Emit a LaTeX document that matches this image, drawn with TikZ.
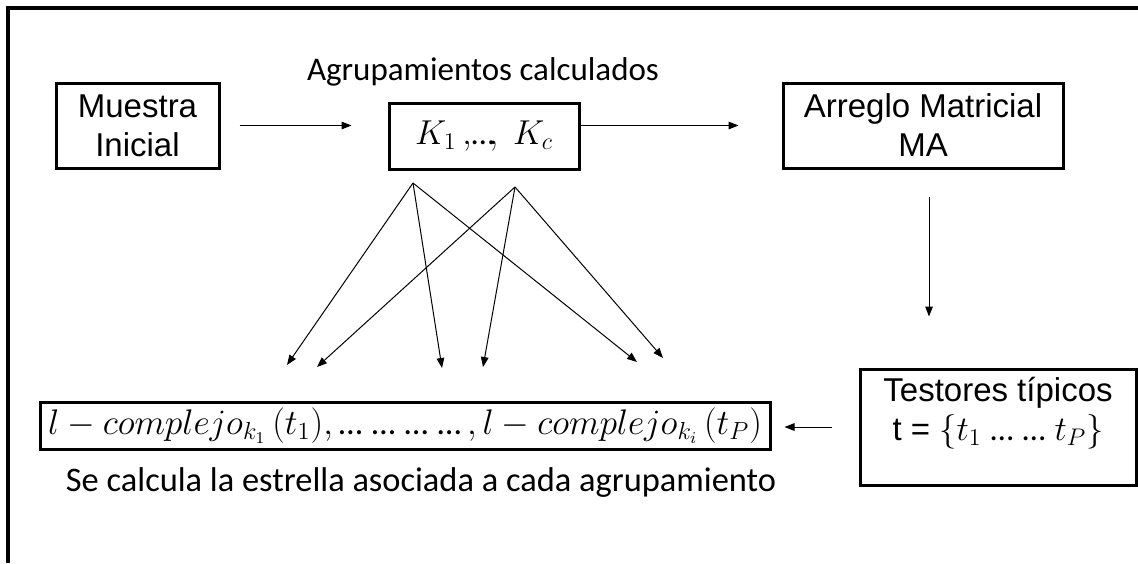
\documentclass[tikz,border=0pt]{standalone}
\usepackage{fontspec}
\setmainfont{Liberation Sans}
\newfontfamily\calibri{Carlito}
\usetikzlibrary{arrows.meta}
\newcommand{\puntos}{\mbox{\calibri …}}
\begin{document}
\begin{tikzpicture}[x=0.5pt,y=-0.5pt,>={Triangle[length=5pt,width=3.8pt]},
  caja/.style={draw,line width=1.5pt,inner sep=2pt,align=center,
    font=\fontsize{16.5}{19.5}\selectfont},
  flecha/.style={->,line width=0.5pt},
  rotulo/.style={font=\calibri\fontsize{16.5}{19.5}\selectfont,inner sep=0pt,anchor=base}]
\useasboundingbox (0,0) rectangle (1138,563);
% marco exterior
\draw[line width=1.6pt] (1138,8) -- (8,8) -- (8,563);
% ---------- cajas ----------
\node[caja,minimum width=81.5pt,minimum height=42.5pt] (muestra) at (137.5,125.5) {Muestra\\Inicial};
\node[caja,minimum width=95pt,minimum height=33pt] (grupos) at (484,136) {$K_1\,,\!\puntos\!,\ K_c$};
\node[caja,minimum width=140pt,minimum height=42.5pt] (arreglo) at (923,125.5) {Arreglo Matricial\\MA};
\node[caja,minimum width=138pt,minimum height=58pt] (testores) at (998,427) {};
\node[caja,draw=none] (testorestxt) at ([yshift=7pt]testores.center)
  {Testores típicos\\t = $\{t_1\ \puntos\ \puntos\ t_P\}$};
\node[caja,minimum width=365pt,minimum height=23.5pt] (complejo) at (405,425.5)
  {\scalebox{1.03}{$l - complejo_{k_1}\,(t_1), \puntos\ \puntos\ \puntos\ \puntos\,, l - complejo_{k_i}\,(t_P)$}};
% ---------- rotulos ----------
\node[rotulo] (agrup) at (483,80) {Agrupamientos calculados};
\node[rotulo,font=\calibri\fontsize{17.2}{20}\selectfont] (estrella) at (421,491)
  {Se calcula la estrella asociada a cada agrupamiento};
% ---------- flechas ----------
\draw[flecha,shorten <=9.5pt,shorten >=18pt] (muestra.east) -- (muestra.east -| grupos.west);
\draw[flecha,shorten >=21.5pt] (grupos.east |- arreglo.west) -- (arreglo.west);
\draw[flecha,shorten <=13.5pt,shorten >=25.5pt] ([xshift=3pt]arreglo.south) -- ([xshift=3pt]arreglo.south |- testores.north);
\draw[flecha,shorten <=13.5pt,shorten >=6.5pt] (testores.west) -- (testores.west -| complejo.east);
% estrella de cada agrupamiento
\coordinate (s1) at (413,183);
\coordinate (s2) at (515,187);
\foreach \n/\x/\y in {1/287/365,2/317/367,3/442/368,4/483/367,5/637/362,6/663/358}
  \coordinate (t\n) at (\x,\y);
\foreach \a/\b in {s1/t1,s1/t3,s1/t5,s2/t2,s2/t4,s2/t6}
  \draw[flecha] (\a) -- (\b);
\end{tikzpicture}
\end{document}
